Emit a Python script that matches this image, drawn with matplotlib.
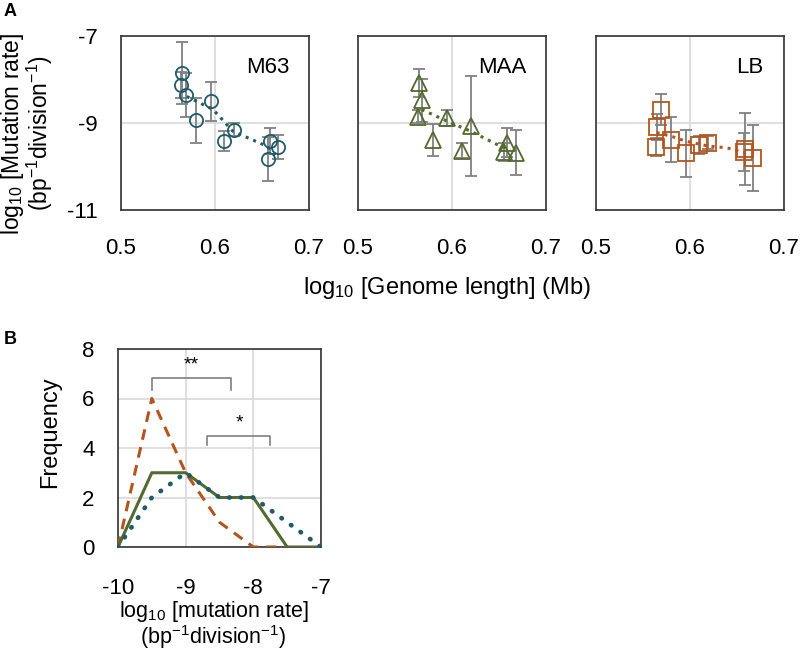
import matplotlib.pyplot as plt
import numpy as np

plt.rcParams['font.family'] = ['Liberation Sans', 'DejaVu Sans']
plt.rcParams['axes.unicode_minus'] = False
plt.rcParams['mathtext.fontset'] = 'custom'
plt.rcParams['mathtext.rm'] = 'Liberation Sans'
plt.rcParams['mathtext.it'] = 'Liberation Sans:italic'
plt.rcParams['mathtext.bf'] = 'Liberation Sans:bold'

# ---- panel A data (log10 genome length, log10 mutation rate, error) ----
m63_x = [0.5646, 0.5634, 0.569, 0.580, 0.5957, 0.6096, 0.620, 0.6585, 0.6567, 0.6674]
m63_y = [-7.85, -8.12, -8.35, -8.94, -8.50, -9.41, -9.16, -9.41, -9.83, -9.55]
m63_err = [0.71, 0.30, 0.51, 0.51, 0.45, 0.23, 0.15, 0.30, 0.50, 0.27]
m63_trend_x = [0.5699, 0.598, 0.619, 0.655, 0.666]
m63_trend_y = [-8.39, -8.69, -9.19, -9.53, -9.76]

maa_x = [0.5652, 0.5677, 0.5641, 0.580, 0.595, 0.6103, 0.620, 0.658, 0.655, 0.6677]
maa_y = [-8.08, -8.48, -8.86, -9.39, -8.88, -9.64, -9.07, -9.45, -9.67, -9.68]
maa_err = [0.33, 0.50, 0.15, 0.37, 0.19, 0.17, 1.15, 0.33, 0.20, 0.51]
maa_trend_x = [0.5677, 0.595, 0.620, 0.6475, 0.662]
maa_trend_y = [-8.69, -8.96, -9.19, -9.49, -9.61]

lb_x = [0.5691, 0.5645, 0.5638, 0.5795, 0.5957, 0.6096, 0.6195, 0.658, 0.657, 0.6674]
lb_y = [-8.69, -9.10, -9.55, -9.38, -9.70, -9.51, -9.45, -9.59, -9.67, -9.81]
lb_err = [0.35, 0.30, 0.20, 0.52, 0.55, 0.20, 0.15, 0.83, 0.43, 0.76]
lb_trend_x = [0.5645, 0.5795, 0.5957, 0.6195, 0.639, 0.658]
lb_trend_y = [-9.22, -9.30, -9.42, -9.53, -9.57, -9.68]

# ---- panel B data (frequency distributions) ----
rate_bins = [-10, -9.5, -9, -8.5, -8, -7.5, -7]
freq_m63 = [0, 2, 3, 2, 2, 1, 0]
freq_maa = [0, 3, 3, 2, 2, 0, 0]
freq_lb = [0, 6, 3, 1, 0, 0]

c_blue = '#1f5c6b'
c_green = '#54692e'
c_orange = '#b5541c'
c_err = '#808080'
c_grid = '#d9d9d9'
FS = 16    # tick labels
LFS = 17   # axis labels

fig = plt.figure(figsize=(8, 6.54), dpi=100)


def px(x, y):
    """pixel position (from top-left) -> figure fraction"""
    return x / 800, 1 - y / 654


panels = [
    (121, 'M63', 0.78, m63_x, m63_y, m63_err, m63_trend_x, m63_trend_y, 'o', 9.5, c_blue),
    (358, 'MAA', 0.77, maa_x, maa_y, maa_err, maa_trend_x, maa_trend_y, '^', 11, c_green),
    (596, 'LB', 0.82, lb_x, lb_y, lb_err, lb_trend_x, lb_trend_y, 's', 11, c_orange),
]


def style_axes(ax, xpad, ypad):
    ax.grid(True, color=c_grid, lw=1.2)
    ax.set_axisbelow(True)
    ax.tick_params(length=0, labelsize=FS)
    ax.tick_params(axis='x', pad=xpad)
    ax.tick_params(axis='y', pad=ypad)
    for s in ax.spines.values():
        s.set_color('#333333')
        s.set_linewidth(1.2)


axes_a = []
for left, name, nx, xs, ys, es, tx, ty, mk, ms, col in panels:
    ax = fig.add_axes([left / 800, (654 - 210) / 654, 188 / 800, 174 / 654])
    ax.errorbar(xs, ys, yerr=es, fmt='none', ecolor=c_err, elinewidth=1.3,
                capsize=4, capthick=1.3, zorder=2)
    ax.plot(tx, ty, ':', color=col, lw=2.2, zorder=3)
    ax.plot(xs, ys, mk, ms=ms, mfc='none', mec=col, mew=1.3, ls='none', zorder=4)
    ax.set_xlim(0.5, 0.7)
    ax.set_ylim(-11, -7)
    ax.set_xticks([0.5, 0.6, 0.7])
    ax.set_yticks([-11, -9, -7])
    style_axes(ax, 20, 17)
    ax.text(nx, 0.82, name, transform=ax.transAxes, ha='center', va='center',
            fontsize=FS)
    axes_a.append(ax)

for ax in axes_a[1:]:
    ax.set_yticklabels([])

# y label of panel A, two lines
fig.text(*px(13, 134), 'log$_{10}$ [Mutation rate]', rotation=90,
         ha='center', va='center', fontsize=16.5)
fig.text(*px(40, 133), '(bp$^{-1}$division$^{-1}$)', rotation=90,
         ha='center', va='center', fontsize=16.5)
fig.text(*px(447, 288), 'log$_{10}$ [Genome length] (Mb)',
         ha='center', va='center', fontsize=LFS)

fig.text(*px(4, 12), 'A', fontsize=13, fontweight='bold', va='center')
fig.text(*px(4, 340), 'B', fontsize=13, fontweight='bold', va='center')

# ---- panel B ----
axb = fig.add_axes([118 / 800, (654 - 547) / 654, 203 / 800, 198 / 654])
axb.plot(rate_bins[:len(freq_lb)], freq_lb, color=c_orange, lw=2.2,
         dashes=(3.5, 2.5), zorder=3)
axb.plot(rate_bins, freq_maa, color=c_green, lw=2.2, zorder=4)
axb.plot(rate_bins, freq_m63, color=c_blue, lw=3.4, ls=(0, (0.1, 2.4)),
         dash_capstyle='round', zorder=5)
axb.set_xlim(-10, -7)
axb.set_ylim(0, 8)
axb.set_xticks([-10, -9, -8, -7])
axb.set_yticks([0, 2, 4, 6, 8])
style_axes(axb, 22, 17)

fig.text(*px(50, 432), 'Frequency', rotation=90, ha='center',
         va='center', fontsize=LFS)
fig.text(*px(214, 611), 'log$_{10}$ [mutation rate]',
         ha='center', va='center', fontsize=15.5)
fig.text(*px(213, 637), '(bp$^{-1}$division$^{-1}$)',
         ha='center', va='center', fontsize=15.5)

# significance brackets
brk_col = '#7f7f7f'
axb.plot([-9.5, -9.5, -8.33, -8.33], [6.34, 6.84, 6.84, 6.34], color=brk_col,
         lw=1.2, clip_on=False)
axb.text(-8.91, 7.35, '**', ha='center', va='center', fontsize=14)
axb.plot([-8.685, -8.685, -7.76, -7.76], [4.12, 4.5, 4.5, 4.12], color=brk_col,
         lw=1.2, clip_on=False)
axb.text(-8.21, 5.0, '*', ha='center', va='center', fontsize=14)

fig.savefig('out.png', dpi=100)
